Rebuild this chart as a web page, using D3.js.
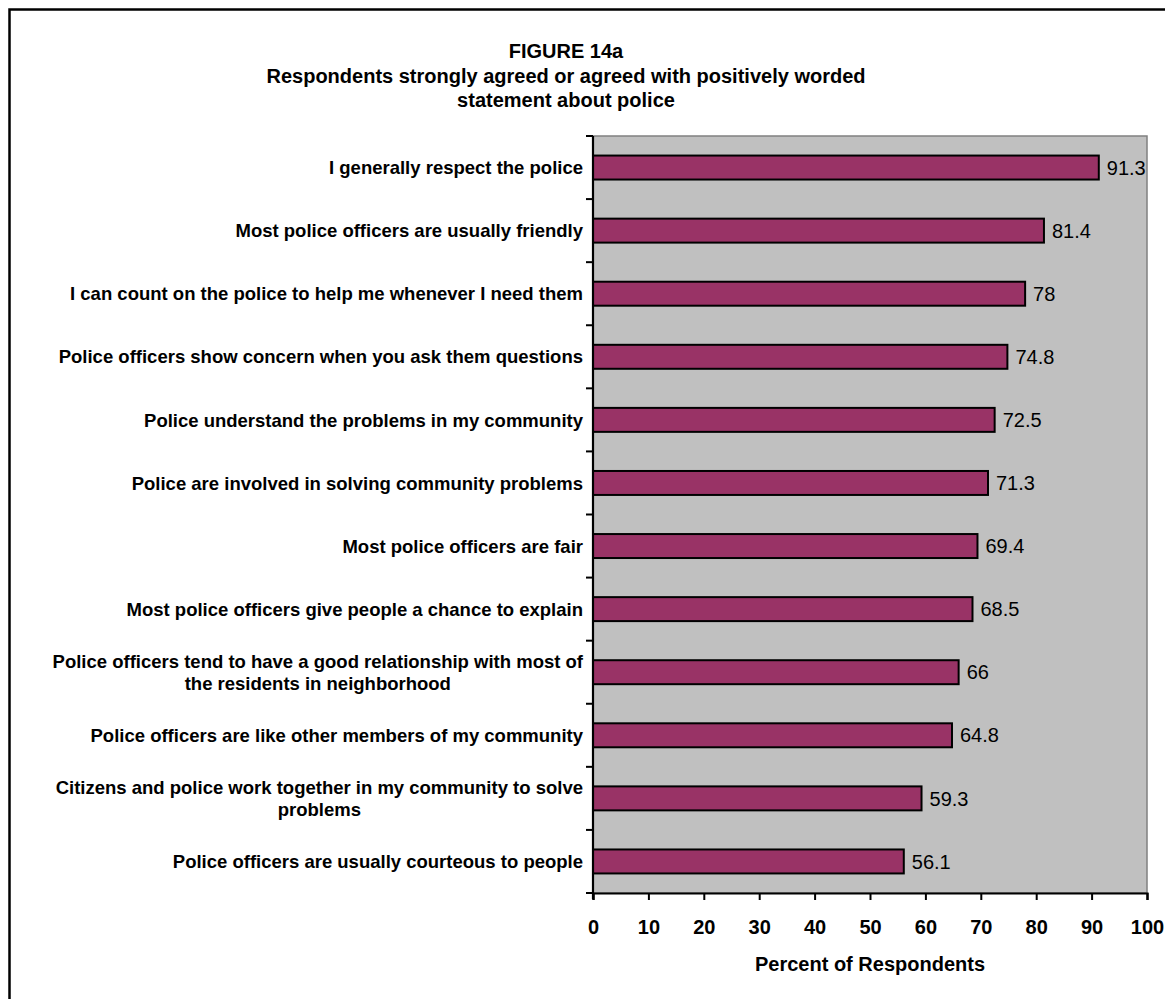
<!DOCTYPE html>
<html>
<head>
<meta charset="utf-8">
<script src="https://cdn.jsdelivr.net/npm/d3@7"></script>
<style>
  html, body { margin: 0; padding: 0; background: #fff; }
  svg { display: block; font-family: "Liberation Sans", Arial, sans-serif; }
</style>
</head>
<body>
<svg id="chart" width="1165" height="999"></svg>
<script>
// Survey statements (top to bottom); "\n" marks a wrapped line
const categories = [
  "I generally respect the police",
  "Most police officers are usually friendly",
  "I can count on the police to help me whenever I need them",
  "Police officers show concern when you ask them questions",
  "Police understand the problems in my community",
  "Police are involved in solving community problems",
  "Most police officers are fair",
  "Most police officers give people a chance to explain",
  "Police officers tend to have a good relationship with most of\nthe residents in neighborhood",
  "Police officers are like other members of my community",
  "Citizens and police work together in my community to solve\nproblems",
  "Police officers are usually courteous to people"
];
const values = [91.3, 81.4, 78, 74.8, 72.5, 71.3, 69.4, 68.5, 66, 64.8, 59.3, 56.1];
const xTicks = [0, 10, 20, 30, 40, 50, 60, 70, 80, 90, 100];
const titleLines = [
  "FIGURE 14a",
  "Respondents strongly agreed or agreed with positively worded",
  "statement about police"
];
const xAxisTitle = "Percent of Respondents";

const svg = d3.select("#chart");

// outer frame
svg.append("rect")
  .attr("x", 9.5).attr("y", 9.5)
  .attr("width", 1200).attr("height", 1040)
  .attr("fill", "none").attr("stroke", "#000").attr("stroke-width", 2.5);

const plot = { left: 593, right: 1147, top: 136, bottom: 893 };

const x = d3.scaleLinear().domain([0, 100]).range([plot.left, plot.right]);
const y = d3.scaleBand().domain(d3.range(categories.length))
  .range([plot.top, plot.bottom]).paddingInner(0.62).paddingOuter(0.31);

// title
const title = svg.append("text")
  .attr("text-anchor", "middle")
  .attr("font-weight", "bold").attr("font-size", 20).attr("fill", "#000");
titleLines.forEach((t, i) => {
  title.append("tspan").attr("x", 566).attr("y", 58 + i * 24.5).text(t);
});

// plot background
svg.append("rect")
  .attr("x", plot.left).attr("y", plot.top)
  .attr("width", plot.right - plot.left).attr("height", plot.bottom - plot.top)
  .attr("fill", "#C0C0C0").attr("stroke", "#808080").attr("stroke-width", 1.5);

// bars
svg.append("g").selectAll("rect")
  .data(values)
  .join("rect")
  .attr("x", x(0))
  .attr("y", (d, i) => y(i))
  .attr("width", d => x(d) - x(0))
  .attr("height", y.bandwidth())
  .attr("fill", "#993366")
  .attr("stroke", "#000").attr("stroke-width", 2);

// value labels
svg.append("g").selectAll("text")
  .data(values)
  .join("text")
  .attr("x", d => x(d) + 8)
  .attr("y", (d, i) => y(i) + y.bandwidth() / 2)
  .attr("dy", "0.36em")
  .attr("font-size", 20).attr("fill", "#000")
  .text(d => d);

// category axis: line + ticks at band boundaries
const step = (plot.bottom - plot.top) / categories.length;
const yAxis = svg.append("g");
yAxis.append("line")
  .attr("x1", plot.left).attr("x2", plot.left)
  .attr("y1", plot.top).attr("y2", plot.bottom + 6)
  .attr("stroke", "#000").attr("stroke-width", 2.2);
yAxis.selectAll("line.tick")
  .data(d3.range(categories.length + 1))
  .join("line").attr("class", "tick")
  .attr("x1", plot.left - 7).attr("x2", plot.left)
  .attr("y1", i => plot.top + i * step).attr("y2", i => plot.top + i * step)
  .attr("stroke", "#000").attr("stroke-width", 2);

// category labels: block right-aligned, wrapped lines centred within block
const labelRight = 583;
categories.forEach((c, i) => {
  const lines = c.split("\n");
  const g = svg.append("text")
    .attr("font-weight", "bold").attr("font-size", 18.5).attr("fill", "#000")
    .attr("text-anchor", "middle");
  const spans = lines.map(l => g.append("tspan").text(l));
  const widths = spans.map(s => s.node().getComputedTextLength());
  const maxW = d3.max(widths);
  const cy = y(i) + y.bandwidth() / 2;
  const lh = 22;
  spans.forEach((s, k) => {
    s.attr("x", labelRight - maxW / 2)
     .attr("y", cy + (k - (lines.length - 1) / 2) * lh)
     .attr("dy", "0.36em");
  });
});

// value axis
const xAxis = svg.append("g").attr("transform", `translate(0,${plot.bottom})`)
  .call(d3.axisBottom(x).tickValues(xTicks).tickSize(7).tickPadding(20).tickFormat(d3.format("d")));
xAxis.select(".domain").attr("stroke", "#000").attr("stroke-width", 2.2);
xAxis.selectAll(".tick line").attr("stroke", "#000").attr("stroke-width", 2);
xAxis.selectAll(".tick text")
  .attr("font-family", "Liberation Sans, Arial, sans-serif")
  .attr("font-weight", "bold").attr("font-size", 20).attr("fill", "#000");

svg.append("text")
  .attr("x", x(50)).attr("y", 971)
  .attr("text-anchor", "middle")
  .attr("font-weight", "bold").attr("font-size", 20).attr("fill", "#000")
  .text(xAxisTitle);
</script>
</body>
</html>
